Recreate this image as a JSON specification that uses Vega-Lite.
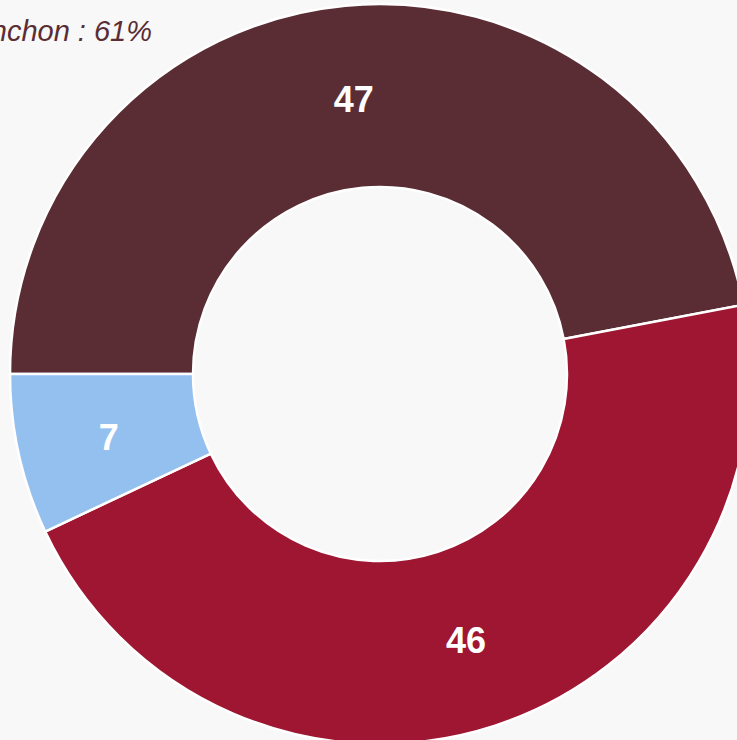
{
  "$schema": "https://vega.github.io/schema/vega-lite/v6.json",
  "width": 714,
  "height": 732,
  "autosize": {"type": "none"},
  "padding": {"left": 23, "top": 8, "right": 0, "bottom": 0},
  "background": "#f8f8f8",
  "title": {
    "text": "Mélenchon : 61%",
    "anchor": "start",
    "frame": "group",
    "align": "right",
    "dx": 129,
    "dy": 38,
    "offset": -33,
    "baseline": "alphabetic",
    "font": "Liberation Sans",
    "fontSize": 29,
    "fontStyle": "italic",
    "fontWeight": "normal",
    "color": "#5a2d35"
  },
  "data": {
    "values": [
      {"category": "A", "value": 47, "rank": 1},
      {"category": "B", "value": 46, "rank": 2},
      {"category": "C", "value": 7, "rank": 3}
    ]
  },
  "encoding": {
    "theta": {"field": "value", "type": "quantitative", "stack": true, "scale": {"range": [4.712389, 10.995574]}},
    "order": {"field": "rank", "type": "quantitative"},
    "color": {
      "field": "category",
      "type": "nominal",
      "scale": {"domain": ["A", "B", "C"], "range": ["#5a2d35", "#9e1631", "#94c0f0"]},
      "legend": null
    }
  },
  "layer": [
    {
      "mark": {"type": "arc", "innerRadius": 187, "outerRadius": 370, "stroke": "#ffffff", "strokeWidth": 2.5}
    },
    {
      "mark": {"type": "text", "radius": 278, "dy": 4, "font": "Liberation Sans", "fontSize": 36, "fontWeight": "bold", "fill": "#ffffff", "align": "center", "baseline": "middle"},
      "encoding": {
        "text": {"field": "value", "type": "quantitative"},
        "color": {"value": "#ffffff"}
      }
    }
  ],
  "config": {"view": {"stroke": null}}
}
